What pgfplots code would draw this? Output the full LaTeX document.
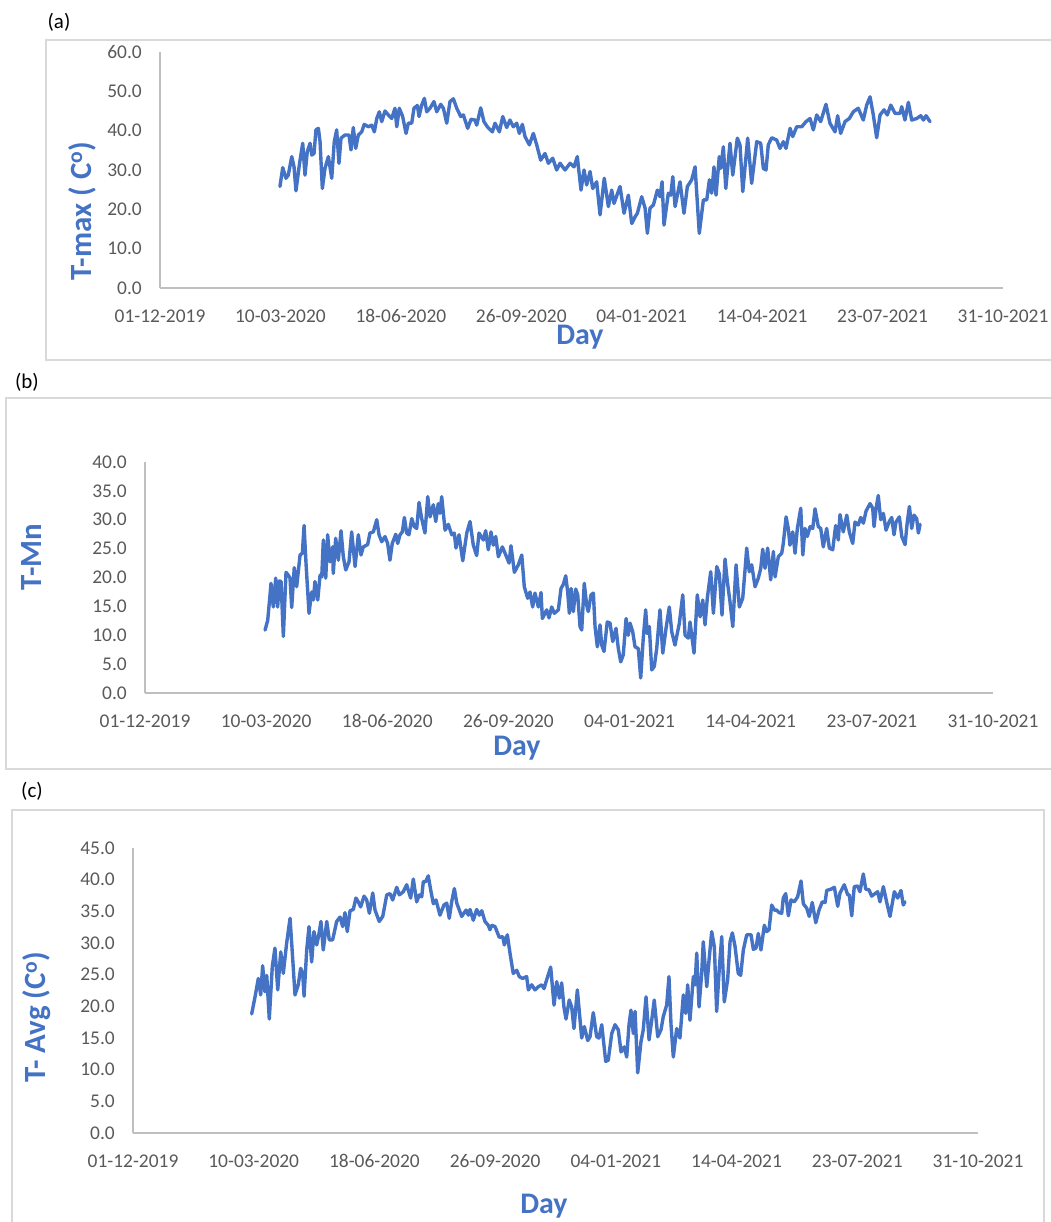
\documentclass[border=0pt]{standalone}
\usepackage{fontspec}
\setmainfont{Carlito}
\usepackage{pgfplots}
\pgfplotsset{compat=1.18}
\definecolor{lineblue}{HTML}{4472C4}
\definecolor{tickgray}{HTML}{595959}
\definecolor{axgray}{HTML}{BFBFBF}
\definecolor{framegray}{HTML}{D9D9D9}
\pgfplotsset{
 excel/.style={
  scale only axis, xmin=0, xmax=700, ymin=0,
  axis x line*=bottom, axis y line*=left,
  axis line style={draw=axgray, line width=1.3bp, -},
  major tick length=0pt,
  xtick={0,100,...,700},
  xticklabels={01-12-2019,10-03-2020,18-06-2020,26-09-2020,04-01-2021,14-04-2021,23-07-2021,31-10-2021},
  /pgf/number format/assume math mode=true,
  y tick label style={/pgf/number format/fixed, /pgf/number format/fixed zerofill, /pgf/number format/precision=1},
  tick label style={font=\fontsize{19.5}{23}\selectfont, text=tickgray, inner sep=0pt},
  xticklabel style={anchor=north, yshift=-21.5bp},
  yticklabel style={anchor=east, xshift=-18bp},
  clip=false,
 },
 tseries/.style={draw=lineblue, line width=3.4bp, line join=round, line cap=round, mark=none},
}
\begin{document}
\begin{tikzpicture}
\useasboundingbox (0,0) rectangle (1051bp,-1222bp);
\draw[framegray, line width=1.3bp] (46bp,-40bp) rectangle (1052bp,-360bp);
\draw[framegray, line width=1.3bp] (6bp,-398bp) rectangle (1052bp,-769bp);
\draw[framegray, line width=1.3bp] (12bp,-1224bp) -- (12bp,-810bp) -- (1044bp,-810bp) -- (1044bp,-1224bp);

% (a)
\begin{axis}[excel, at={(160bp,-288bp)}, anchor=south west, width=843bp, height=236bp, ymax=60, ytick={0,10,...,60}]
\addplot[tseries] coordinates {(99.6,25.8)(101.9,30.6)(104.6,27.9)(106.5,28.7)(109.4,33.4)(111.3,30.8)(112.9,24.7)(115.7,31.3)(118.5,36.8)(120.4,28.7)(122.3,34.7)(124.6,36.8)(126.0,33.8)(127.9,34.2)(129.5,40.2)(131.5,40.6)(132.9,37.2)(134.8,25.3)(137.0,30.4)(139.8,33.4)(142.6,27.9)(144.7,37.2)(146.7,40.2)(148.6,31.7)(150.3,38.1)(153.6,38.9)(156.9,38.9)(158.6,35.1)(160.5,40.8)(162.5,35.5)(164.7,38.9)(167.5,39.7)(169.6,41.6)(173.0,41.0)(175.8,41.4)(178.0,39.7)(180.0,43.1)(182.1,44.8)(184.1,42.3)(186.8,45.0)(189.6,44.0)(192.4,43.1)(195.1,45.7)(196.6,41.0)(198.7,45.7)(201.5,43.6)(204.3,39.3)(206.2,41.9)(209.0,41.9)(210.9,45.7)(213.7,46.4)(215.1,43.6)(217.3,46.5)(219.5,48.2)(221.5,44.8)(224.2,45.7)(227.5,47.4)(229.8,44.8)(233.1,46.7)(235.3,45.7)(238.1,41.9)(240.8,47.4)(243.6,48.1)(246.4,45.7)(249.7,43.6)(251.9,44.0)(255.5,40.6)(258.3,42.9)(261.6,42.7)(263.0,41.4)(266.3,45.8)(269.0,42.3)(271.8,41.0)(276.0,39.7)(278.2,41.9)(281.8,39.7)(284.6,43.6)(287.9,40.8)(290.6,42.7)(293.4,41.0)(296.2,41.9)(298.4,39.3)(300.9,41.6)(303.1,38.5)(306.7,36.4)(310.0,39.3)(312.8,36.4)(316.1,32.5)(319.7,34.2)(322.5,31.7)(326.1,33.0)(329.4,30.0)(332.2,31.7)(336.3,30.0)(340.5,31.7)(343.8,30.8)(346.5,33.4)(349.6,24.9)(352.1,30.0)(354.3,26.2)(357.1,29.6)(359.3,25.3)(362.6,27.0)(365.4,18.6)(368.9,27.9)(372.3,20.7)(375.1,24.9)(377.0,21.5)(382.0,25.8)(385.3,19.0)(388.9,23.6)(391.7,16.4)(394.5,18.1)(396.4,19.0)(400.0,23.2)(402.8,20.3)(404.7,13.9)(406.9,20.3)(409.7,21.1)(413.0,24.9)(415.2,23.2)(416.9,27.0)(418.5,16.0)(422.1,24.1)(424.1,23.6)(425.8,28.3)(427.7,20.7)(431.8,27.0)(435.1,19.0)(437.9,25.8)(441.5,27.5)(444.3,30.8)(447.8,13.9)(451.2,22.4)(454.0,22.4)(456.2,27.5)(458.1,24.1)(460.0,30.8)(461.7,23.6)(464.4,33.4)(465.6,30.4)(467.8,35.9)(469.8,25.3)(473.3,36.8)(475.6,28.7)(479.4,38.1)(481.6,36.4)(483.9,24.5)(488.0,38.1)(491.3,26.6)(495.5,37.2)(498.8,36.8)(501.0,30.4)(503.2,30.0)(505.1,36.4)(507.9,38.2)(512.1,37.6)(514.8,35.5)(517.6,37.2)(519.8,35.5)(523.2,40.6)(525.4,38.5)(528.7,41.0)(532.9,41.0)(536.4,42.3)(539.8,43.1)(542.5,40.2)(545.3,44.0)(548.6,42.3)(553.0,46.7)(556.3,41.9)(560.5,39.7)(562.7,43.8)(565.2,39.3)(568.8,42.3)(572.4,43.1)(575.7,44.8)(579.8,45.7)(584.0,42.7)(586.8,46.5)(589.6,48.6)(592.3,44.0)(595.1,38.2)(597.9,44.0)(601.2,45.3)(603.9,44.0)(606.8,46.5)(610.3,44.4)(614.5,44.4)(615.9,46.1)(618.6,42.7)(621.4,47.2)(624.2,42.7)(628.4,43.1)(631.7,43.8)(633.9,42.7)(636.1,43.8)(639.4,42.3)};
\end{axis}

% (b)
\begin{axis}[excel, at={(145bp,-693bp)}, anchor=south west, width=848bp, height=231bp, ymax=40, ytick={0,5,...,40}]
\addplot[tseries] coordinates {(99.1,10.9)(101.3,12.6)(103.2,17.0)(104.0,19.0)(105.9,14.9)(107.9,19.9)(109.5,14.9)(110.9,19.4)(112.3,19.3)(114.2,9.8)(116.4,20.9)(118.3,20.4)(119.7,19.9)(121.1,14.8)(123.2,21.7)(125.2,18.4)(128.0,23.9)(129.9,24.2)(131.3,29.0)(132.9,22.5)(135.4,13.8)(137.6,17.5)(138.9,16.1)(140.3,19.3)(142.6,16.1)(144.5,20.4)(145.9,20.1)(147.2,26.5)(149.2,19.9)(150.8,27.4)(152.7,22.7)(154.9,25.3)(155.4,20.7)(157.4,26.8)(159.6,23.0)(161.8,28.1)(163.7,23.6)(165.7,21.3)(168.4,22.7)(170.6,27.9)(173.4,21.9)(176.1,27.4)(178.3,23.9)(180.2,25.3)(183.8,25.7)(185.7,27.7)(188.5,27.9)(191.3,30.0)(193.2,27.4)(195.4,26.2)(198.1,27.1)(200.3,25.9)(202.2,23.0)(204.1,25.9)(207.0,27.5)(208.6,25.9)(210.5,27.4)(212.4,27.9)(214.1,30.4)(216.0,27.7)(217.9,27.4)(220.2,30.2)(222.3,28.8)(224.3,28.5)(226.2,33.0)(228.4,30.2)(231.1,27.7)(233.4,34.0)(235.3,30.5)(238.0,32.6)(240.0,29.7)(242.1,32.8)(243.5,31.1)(244.9,34.0)(247.7,28.2)(250.4,29.2)(253.2,27.4)(255.3,27.7)(256.7,25.1)(259.2,27.4)(262.3,22.9)(265.6,27.7)(268.3,29.7)(271.0,25.6)(273.8,23.8)(275.7,27.7)(279.3,26.5)(281.2,28.1)(283.4,24.8)(285.6,27.9)(287.5,25.6)(289.5,27.1)(291.7,23.6)(295.0,25.3)(297.8,23.9)(300.5,22.5)(302.1,25.5)(304.9,20.9)(308.2,22.2)(311.0,23.9)(313.1,18.4)(315.9,16.4)(317.8,17.5)(320.0,14.9)(321.9,17.3)(324.7,14.9)(326.9,17.4)(328.0,12.9)(331.6,14.4)(333.5,13.0)(335.7,14.9)(337.9,13.8)(341.2,14.4)(343.4,18.1)(345.3,18.8)(347.3,20.3)(348.9,17.5)(350.3,13.8)(351.7,18.1)(353.6,14.1)(355.5,18.0)(357.2,17.0)(359.1,11.5)(360.5,10.9)(362.6,19.0)(364.6,15.2)(365.9,14.1)(368.2,17.0)(370.1,17.3)(371.5,11.5)(373.4,8.0)(375.6,11.8)(377.0,8.3)(378.9,7.2)(381.6,12.3)(383.9,12.1)(386.1,8.9)(388.8,11.2)(390.7,7.7)(392.7,5.4)(394.8,6.6)(397.1,12.9)(398.9,10.0)(400.4,12.1)(402.6,10.6)(404.5,8.0)(407.2,7.7)(409.2,2.6)(411.3,9.5)(413.3,14.4)(414.6,10.3)(416.3,11.5)(418.3,4.0)(420.4,4.6)(422.4,7.7)(425.1,14.4)(427.4,6.9)(430.1,11.2)(432.8,14.9)(434.8,10.6)(437.5,8.3)(441.1,12.1)(443.9,17.0)(445.8,10.0)(448.5,9.5)(449.9,12.3)(453.2,6.9)(455.9,17.0)(458.2,13.2)(460.4,16.1)(462.3,11.8)(464.2,16.5)(467.0,21.0)(469.2,13.8)(472.0,21.9)(474.1,20.6)(476.3,13.5)(478.8,23.2)(480.7,19.3)(482.9,15.8)(485.2,11.5)(487.9,22.2)(490.6,14.9)(493.4,16.4)(495.3,21.3)(496.7,25.1)(498.8,21.0)(500.8,22.2)(503.6,18.4)(506.3,19.9)(508.3,21.6)(509.9,24.9)(511.8,21.6)(514.0,25.1)(516.5,19.6)(518.7,24.5)(520.1,20.1)(522.8,23.6)(525.6,24.2)(526.9,25.9)(529.2,30.5)(531.0,28.5)(532.4,25.6)(534.7,27.9)(536.6,24.2)(538.5,28.5)(541.3,32.0)(543.0,23.9)(544.8,28.5)(546.7,27.1)(549.0,28.8)(551.2,28.5)(553.1,31.9)(555.8,28.8)(557.8,28.5)(559.9,25.3)(562.7,28.5)(564.9,25.1)(567.7,24.8)(570.1,29.0)(572.3,26.5)(573.7,30.9)(576.4,27.9)(579.3,30.8)(581.4,27.9)(584.2,25.9)(586.1,29.6)(588.8,29.1)(590.8,30.4)(593.0,29.4)(595.2,31.5)(598.5,32.8)(600.7,32.0)(601.8,28.8)(603.5,32.0)(605.3,34.2)(607.3,30.0)(609.5,31.1)(611.7,28.2)(614.4,29.7)(616.4,30.4)(618.3,27.4)(619.9,29.6)(622.7,30.5)(624.7,27.1)(627.4,25.7)(629.3,29.7)(631.0,32.3)(632.9,28.5)(634.8,30.8)(637.0,30.2)(638.4,27.7)(639.8,29.2)};
\end{axis}

% (c)
\begin{axis}[excel, at={(133bp,-1133bp)}, anchor=south west, width=845bp, height=285bp, ymax=45, ytick={0,5,...,45}]
\addplot[tseries] coordinates {(98.3,18.8)(101.1,21.5)(103.8,24.4)(105.8,21.8)(107.4,26.4)(109.3,22.3)(110.8,24.9)(112.9,18.0)(115.4,26.3)(117.6,29.2)(119.9,22.6)(122.4,28.6)(124.5,25.2)(127.3,30.0)(130.1,33.9)(132.0,28.4)(134.2,21.8)(136.9,23.4)(138.9,26.0)(140.6,25.2)(141.7,21.6)(143.9,28.9)(145.8,32.6)(148.0,27.0)(149.9,31.8)(152.2,29.7)(154.1,31.5)(155.7,33.4)(157.6,28.9)(160.5,33.4)(162.6,30.5)(165.4,30.5)(168.7,33.4)(171.5,34.1)(173.7,32.6)(175.6,34.8)(177.5,31.8)(179.8,35.1)(182.5,35.3)(184.7,37.1)(186.6,36.5)(188.6,35.7)(191.4,37.4)(193.6,36.8)(195.8,34.7)(198.6,37.9)(200.5,35.2)(204.0,33.4)(206.9,34.2)(210.2,37.6)(212.9,37.8)(215.1,36.8)(218.5,38.8)(220.6,37.6)(223.9,38.1)(226.7,39.2)(230.0,37.1)(232.2,40.1)(235.0,36.5)(237.2,37.6)(239.2,37.3)(240.5,39.7)(242.5,39.7)(244.6,40.6)(246.6,38.4)(248.8,36.2)(251.0,36.8)(254.3,34.4)(257.6,36.0)(259.9,36.3)(262.0,33.9)(264.0,36.5)(266.2,38.6)(268.2,36.3)(272.3,34.2)(275.9,35.2)(277.8,34.4)(279.2,35.3)(281.9,33.6)(284.7,35.3)(286.9,34.4)(288.9,35.1)(291.6,33.4)(294.3,32.8)(295.7,32.1)(297.1,32.8)(299.9,32.6)(303.4,30.9)(306.3,31.0)(307.6,29.7)(310.1,31.3)(312.3,28.4)(315.0,25.2)(317.9,25.7)(320.0,24.7)(322.8,24.4)(326.1,24.7)(327.5,22.6)(330.3,23.4)(333.0,22.6)(335.8,23.1)(338.6,23.4)(340.5,22.8)(342.7,24.2)(346.0,26.2)(348.8,20.2)(351.0,23.9)(353.2,21.3)(355.1,23.7)(357.0,19.9)(358.7,18.0)(361.4,21.0)(363.4,19.9)(365.3,16.5)(368.1,22.6)(371.7,15.0)(373.9,16.8)(376.7,14.6)(378.6,15.2)(381.3,19.0)(384.1,15.2)(386.0,15.0)(388.3,17.1)(391.6,11.3)(393.7,11.5)(396.6,15.7)(399.3,17.1)(402.0,16.3)(404.3,12.8)(407.0,13.6)(409.0,12.0)(410.9,17.1)(412.5,19.4)(414.5,15.7)(415.9,19.2)(418.1,9.5)(420.8,14.4)(422.7,16.3)(425.0,21.5)(427.5,14.7)(429.7,17.8)(431.8,21.0)(434.7,15.2)(437.4,16.3)(439.3,18.4)(442.1,20.2)(444.0,24.7)(445.7,17.1)(447.6,12.0)(450.4,16.5)(453.1,15.0)(455.9,21.8)(457.9,18.9)(459.5,23.4)(461.4,17.8)(464.2,24.7)(465.6,23.4)(467.0,28.4)(468.9,19.9)(471.1,25.2)(472.4,30.2)(475.3,23.1)(477.2,27.3)(479.4,31.8)(481.6,29.4)(483.5,19.2)(485.7,26.0)(487.7,31.0)(489.8,20.7)(492.6,24.2)(494.6,30.2)(496.5,31.6)(498.7,29.5)(501.4,25.2)(503.4,24.9)(505.6,28.9)(508.4,31.3)(512.0,31.3)(513.9,29.0)(516.1,29.2)(518.0,31.5)(520.2,28.9)(523.0,32.8)(524.9,31.8)(526.9,32.1)(529.1,36.0)(531.3,35.2)(533.2,35.2)(535.2,34.8)(537.4,34.7)(538.7,37.1)(540.7,37.8)(542.9,34.3)(545.1,36.8)(547.8,36.5)(550.6,37.3)(553.4,39.8)(555.3,36.2)(558.1,35.5)(560.2,34.2)(562.7,36.4)(565.6,33.2)(568.3,35.2)(571.0,36.5)(573.3,36.4)(574.7,38.3)(578.2,38.5)(581.0,38.8)(583.8,35.8)(585.7,37.9)(589.2,39.2)(592.1,37.6)(593.4,37.6)(595.4,34.3)(597.5,38.9)(600.3,39.0)(602.2,38.1)(605.0,40.9)(607.0,38.5)(609.7,38.4)(611.9,37.4)(614.7,37.8)(616.9,38.1)(618.8,36.5)(621.6,38.9)(624.4,36.4)(627.1,34.2)(630.7,38.1)(633.5,37.1)(636.2,38.3)(638.1,36.0)(639.5,36.5)};
\end{axis}

\tikzset{plab/.style={font=\fontsize{21}{25}\selectfont, text=black}, ylab/.style={rotate=90, font=\bfseries\fontsize{31}{36}\selectfont, text=lineblue}, xlab/.style={font=\bfseries\fontsize{30}{36}\selectfont, text=lineblue}}
\node[plab] at (59bp,-22bp) {(a)};
\node[plab] at (27bp,-382bp) {(b)};
\node[plab] at (32bp,-791bp) {(c)};
\node[ylab] at (82bp,-211bp) {T-max ( C\textsuperscript{o})};
\node[ylab] at (31bp,-557bp) {T-Mn};
\node[ylab] at (37bp,-1017bp) {T- Avg (C\textsuperscript{o})};
\node[xlab] at (580bp,-337bp) {Day};
\node[xlab] at (517bp,-748bp) {Day};
\node[xlab] at (544bp,-1206bp) {Day};
\end{tikzpicture}
\end{document}
